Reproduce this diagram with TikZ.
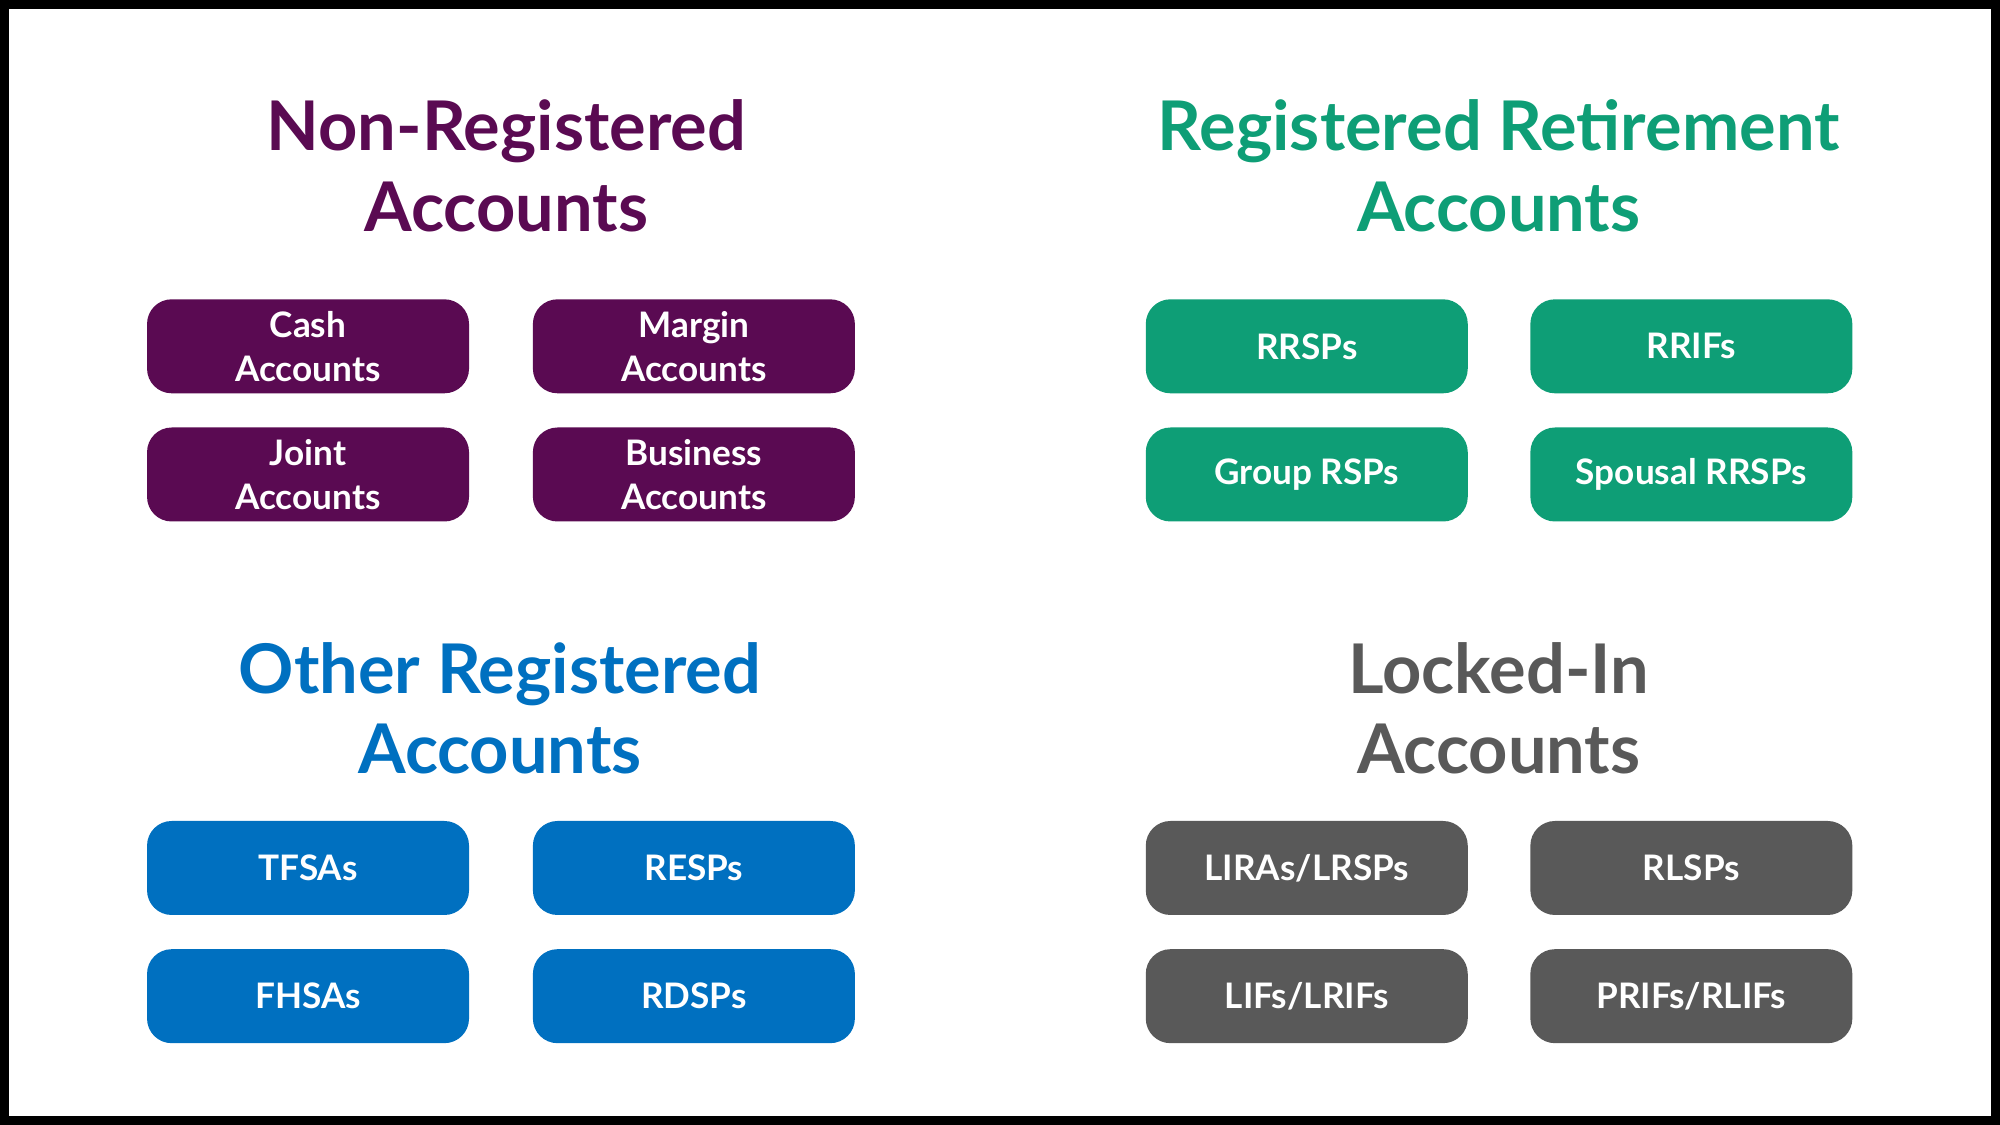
\documentclass[tikz,border=0pt]{standalone}
\usepackage{fontspec}
\setmainfont{Lato}
\usetikzlibrary{positioning}
\definecolor{plum}{RGB}{90,10,82}
\definecolor{jade}{RGB}{14,158,118}
\definecolor{azure}{RGB}{0,112,192}
\definecolor{slate}{RGB}{89,89,89}
\tikzset{
  acct/.style={
    fill            = #1,
    text            = white,
    rounded corners = 7pt,
    minimum width   = 3.22cm,
    minimum height  = 0.94cm,
    align           = center,
    font            = \fontsize{10}{12.5}\selectfont\bfseries},
  head/.style={
    text  = #1,
    align = center,
    font  = \fontsize{19.5}{22.8}\selectfont\bfseries}
}

\begin{document}
\begin{tikzpicture}[x={(0.012755cm,0)}, y={(0,-0.012755cm)}]

\useasboundingbox (0,0) rectangle (1568,882);
\draw[line width=5pt] (0,0) rectangle (1568,882);

% non-registered
\node[head=plum] (nonreg) at (397,130) {Non-Registered\\Accounts};
\node[acct=plum] (cash)   at (241.5,271.5) {Cash\\Accounts};
\node[acct=plum] (margin) at (544,271.5)   {Margin\\Accounts};
\node[acct=plum] (joint)  at (241.5,372)   {Joint\\Accounts};
\node[acct=plum] (biz)    at (544,372)     {Business\\Accounts};

% registered retirement
\node[head=jade] (regret) at (1175,130) {Registered Retirement\\Accounts};
\node[acct=jade] (rrsp)   at (1024.5,271.5) {RRSPs};
\node[acct=jade] (rrif)   at (1326,271.5)   {RRIFs};
\node[acct=jade] (grsp)   at (1024.5,372)   {Group RSPs};
\node[acct=jade] (sprrsp) at (1326,372)     {Spousal RRSPs};

% other registered
\node[head=azure] (othreg) at (392,555) {Other Registered\\Accounts};
\node[acct=azure] (tfsa)   at (241.5,680.5) {TFSAs};
\node[acct=azure] (resp)   at (544,680.5)   {RESPs};
\node[acct=azure] (fhsa)   at (241.5,781)   {FHSAs};
\node[acct=azure] (rdsp)   at (544,781)     {RDSPs};

% locked-in
\node[head=slate] (locked) at (1175,555) {Locked-In\\Accounts};
\node[acct=slate] (lira)   at (1024.5,680.5) {LIRAs/LRSPs};
\node[acct=slate] (rlsp)   at (1326,680.5)   {RLSPs};
\node[acct=slate] (lif)    at (1024.5,781)   {LIFs/LRIFs};
\node[acct=slate] (prif)   at (1326,781)     {PRIFs/RLIFs};

\end{tikzpicture}
\end{document}
